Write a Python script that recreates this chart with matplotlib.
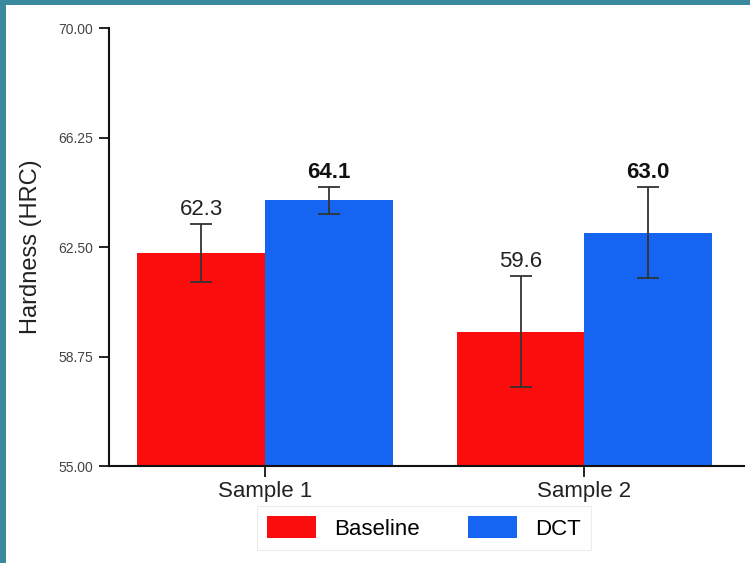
import matplotlib
matplotlib.use("Agg")
import matplotlib.pyplot as plt
import numpy as np
from matplotlib.patches import Rectangle

plt.rcParams["font.family"] = ["Liberation Sans", "DejaVu Sans"]

samples = ["Sample 1", "Sample 2"]
baseline = [62.3, 59.6]
baseline_err = [1.0, 1.9]
dct = [64.1, 63.0]
dct_err = [0.45, 1.55]
yticks = [55.00, 58.75, 62.50, 66.25, 70.00]

RED = "#fc0d0d"
BLUE = "#1565f2"
TEAL = "#3a8a9f"

fig = plt.figure(figsize=(7.5, 5.63), dpi=100, facecolor=TEAL)
# white panel inside the teal frame
fig.patches.append(Rectangle((6 / 750, 0), 1, 1 - 5 / 563, transform=fig.transFigure,
                             facecolor="white", edgecolor="none", zorder=-10))

ax = fig.add_axes([0.145, 0.172, 0.847, 0.778])
ax.set_facecolor("white")

x = np.arange(len(samples))
w = 0.4
ekw = dict(ecolor="#333333", elinewidth=1.3, capthick=1.3)
ax.bar(x - w / 2, baseline, w, color=RED, yerr=baseline_err, capsize=8,
       error_kw=ekw, label="Baseline", zorder=2)
ax.bar(x + w / 2, dct, w, color=BLUE, yerr=dct_err, capsize=8,
       error_kw=ekw, label="DCT", zorder=2)

# value labels sit just above the upper error cap
for xi, v, e in zip(x - w / 2, baseline, baseline_err):
    ax.annotate(f"{v:.1f}", (xi, v + e), xytext=(0, 3), textcoords="offset points",
                ha="center", va="bottom", fontsize=16, color="#222222")
for xi, v, e in zip(x + w / 2, dct, dct_err):
    ax.annotate(f"{v:.1f}", (xi, v + e), xytext=(0, 3), textcoords="offset points",
                ha="center", va="bottom", fontsize=16, fontweight="bold", color="#111111")

ax.set_ylim(55, 70)
ax.set_xlim(-0.49, 1.5)
ax.set_yticks(yticks)
ax.set_yticklabels([f"{t:.2f}" for t in yticks], fontsize=10, color="#444444")
ax.set_xticks(x)
ax.set_xticklabels(samples, fontsize=16, color="#222222")
ax.tick_params(axis="y", length=7, width=1.2, pad=4)
ax.tick_params(axis="x", length=8, width=1.2, pad=3)
ax.set_ylabel("Hardness (HRC)", fontsize=17, color="#222222", labelpad=12)

for s in ("top", "right"):
    ax.spines[s].set_visible(False)
for s in ("left", "bottom"):
    ax.spines[s].set_linewidth(1.5)
    ax.spines[s].set_color("#111111")

leg = fig.legend(loc="center", bbox_to_anchor=(424 / 750, 1 - 528 / 563), ncol=2,
                 fontsize=16, frameon=True, fancybox=False, handlelength=2.2,
                 handleheight=1.1, columnspacing=2.2, borderpad=0.45)
leg.get_frame().set_edgecolor("#e8e8e8")
leg.get_frame().set_linewidth(0.8)

fig.savefig("out.png", dpi=100, facecolor=TEAL)
